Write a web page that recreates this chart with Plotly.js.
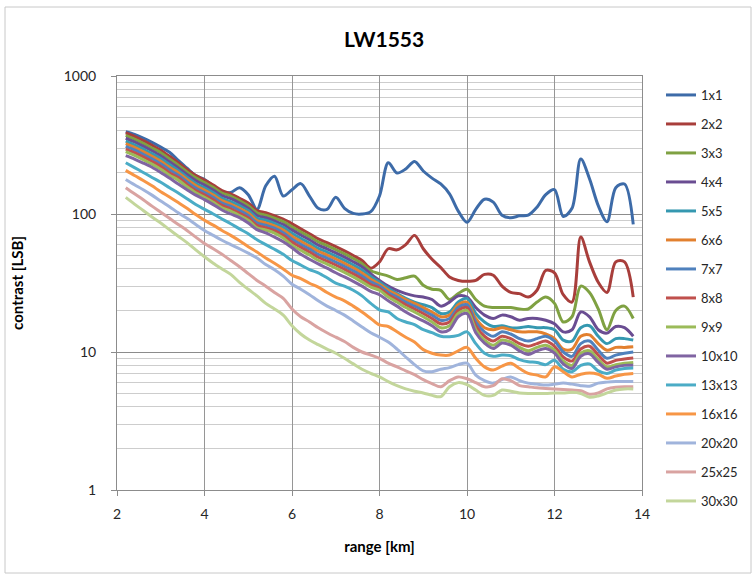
<!DOCTYPE html>
<html>
<head>
<meta charset="utf-8">
<script src="https://cdn.plot.ly/plotly-3.0.1.min.js"></script>
<style>html,body{margin:0;padding:0;background:#fff;}#chart{width:756px;height:576px;}</style>
</head>
<body>
<div id="chart"></div>
<script>
// ---- DATA ----
const rangeKm = [2.2,2.4,2.6,2.8,3.0,3.2,3.4,3.6,3.8,4.0,4.2,4.4,4.6,4.8,5.0,5.2,5.4,5.6,5.8,6.0,6.2,6.4,6.6,6.8,7.0,7.2,7.4,7.6,7.8,8.0,8.2,8.4,8.6,8.8,9.0,9.2,9.4,9.6,9.8,10.0,10.2,10.4,10.6,10.8,11.0,11.2,11.4,11.6,11.8,12.0,12.2,12.4,12.6,12.8,13.0,13.2,13.4,13.6,13.8];

const seriesNames = ['1x1','2x2','3x3','4x4','5x5','6x6','7x7','8x8','9x9','10x10','13x13','16x16','20x20','25x25','30x30'];

const c1x1 = [395,378,355,330,305,280,245,215,190,178, 160,145,143,155,138,108,160,188,135,150, 166,135,110,108,132,110,101,100,104,135, 235,198,212,240,205,182,165,140,105,87, 108,128,122,98,94,97,98,112,138,150, 96,110,250,180,115,88,155,165,84];
const c2x2 = [388,365,340,315,290,262,235,210,190,176, 162,148,140,130,120,106,102,97,92,85, 78,72,66,62,58,54,50,46,40.5,45, 56,55,60,70,56,47,41,35,33,32.5, 33,36.5,36,30,27,26.5,25,28,39,37.5, 26,23,68,45,32,27,45,45,25];
const c3x3 = [371,349,325,301,278,251, 226,202,183,169,156,142,135,125,115,102,98, 93.2,88,80.8,74.2,68.5,62.8,59,55.2,51.4,47.6,43.7,38.8, 37,35.5,33.5,34.5,35.5,30.5,28.5,28,24,26.5, 28.5,24,21.5,21,21,21,20.5,20.5,23,25, 22.5,16.5,18,30,27,20.5,14.5,20,21.5,17.5];
const c4x4 = [354,333,310,287,264,239, 216,193,175,162,149,136,129,120,110,97.5,94, 89.2,83.9,76.7,70.4,65,59.5,55.9,52.3,48.7,45.1,41.5,36.9, 33,30,28,26.5,25.5,25,24,21.5,23,25.5, 25,21,18.5,17.5,18.5,18,17,17.5,17.5,17, 16,14,14.5,19.5,18,14.5,13.7,15.3,15,13];
const c5x5 = [337,317,295,274,252,228, 207,185,167,155,143,130,123,115,106,93.4,90, 85.5,80,72.6,66.6,61.5,56.4,53,49.5,46.1,42.7,39.3,35.2, 32,29,26.5,24.5,23,22,21,19,19.5,23, 24.5,19,16.5,15.3,15.5,15,15,15.3,15,15, 14.5,12.2,12,15,15.5,13,11.5,12.5,12.5,12.2];
const c6x6 = [323,304,283,262,241,218, 199,178,161,149,137,125,118,110,101.5,89.7,86.3, 82,76.5,69.1,63.4,58.5,53.7,50.4,47.2,43.9,40.7,37.4,33.7, 31,28,26,24,22.5,21,19.5,18,18.5,22, 23,17.5,15,14.5,15,14.5,14,14,14,13.5, 12.5,10.5,10.5,13,13.3,11.5,10.3,10.8,10.8,10.9];
const c7x7 = [309,291,271,251,231,209, 191,171,154,143,132,120,114,106,97.6,86.2,82.9, 78.9,73.2,65.7,60.3,55.7,51,47.9,44.8,41.7,38.7,35.6,32.2, 30,27,25,23,21.5,20,18.5,17,17.5,21, 22,16.5,14,13,14,13.5,12.5,12,12.5,13, 12,10,9.3,11.5,12,10.3,9,9.5,9.8,10];
const c8x8 = [295,278,259,240,221,199, 184,164,148,137.5,126.5,115.6,109,101.5,93.7,82.8,79.7, 75.8,70,62.6,57.4,53,48.6,45.6,42.7,39.7,36.8,33.9,30.8, 29,26,24,22,20.5,19,17.5,16,16.5,20, 21,15.5,13,12,13,12.5,11.5,11,11.5,12, 11,9.2,8.6,10.5,11,9.5,8.3,8.7,8.9,9.05];
const c9x9 = [283,266,248,230,211,191, 176,157.5,142.5,132,121.5,111,105,97.5,90,79.5,76.5, 72.8,67,59.5,54.6,50.4,46.2,43.4,40.6,37.8,35,32.2,29.5, 28,25,23,21,19.5,18,16.5,15,15.5,19, 20,14.5,12.2,11.2,12.2,11.8,10.8,10.2,10.8,11.2, 10.3,8.6,8,9.8,10.2,8.8,7.8,8.1,8.3,8.4];
const c10x10 = [265,250,234,218,200,182, 165,150,137,127,117,107,100,94,86,77,73, 68,63,57,51,47,43.5,40.5,37.5,35,32.5,30,27.5, 26,23.5,21.5,19.5,18,16.8,15.5,14,14.5,18, 19,13.8,11.6,10.6,11.6,11.2,10.2,9.6,10.2,10.6, 9.8,8.2,7.6,9.3,9.7,8.4,7.5,7.8,8,8];
const c13x13 = [235,217,200,184,170,155,142,129,117,108, 100,92,85,78,72,65,60,55.5,51,46, 42.7,39.5,37.5,34.5,31.5,30,28,25.5,22.5, 20.2,19.5,17.5,16.5,15.8,14.5,13.8,13,12.9,13.2, 14,11.5,9.8,9.3,9.5,9.4,8.8,8.5,8.4,8.1, 8.7,7.5,7.2,8,8.2,7.3,7,7.4,7.6,7.65];
const c16x16 = [207,190,175,160,145,133,121,110,99,90, 83,76,70,64,58,53,48,44,40,36, 34,31.5,29.5,27,25,23.5,21.5,19.5,17.5, 15.7,15.3,14,12.8,11.8,10.4,9.8,9.5,9.5,10.2, 10.8,9,7.8,7.4,7.9,8.3,7.6,7,6.8,6.6, 7.8,7.2,6.6,6.9,7.05,6.9,6.45,6.7,6.9,7];
const c20x20 = [178,163,150,137,124,113,102,93,84,76, 70,64.5,60,56,52,48,43,39.5,35.5,31, 28.5,26,23.5,21.5,20,18.5,16.8,15.2,13.8, 12.8,11.8,10.5,9.2,8.1,7.3,7.2,7.5,7.7,8.1, 8.3,6.8,6.2,5.95,6.3,6.6,6.2,5.95,5.85,5.77, 5.85,5.95,5.85,5.7,5.65,5.95,6.05,6.1,6.1,6.1];
const c25x25 = [155,140,127,114,103,93,84,76,68,61, 56,51,46,41.5,37,33,30,27,24.5,20.5, 18,16.5,15,13.8,12.8,11.9,10.8,10,9.5, 9,8.3,7.8,7.3,6.85,6.3,5.9,5.6,6.2,6.6, 6.4,6,5.6,5.7,6.4,6.2,5.7,5.6,5.5,5.45, 5.4,5.35,5.3,5.25,4.95,5.05,5.4,5.55,5.6,5.6];
const c30x30 = [132,118,106,95,86,77,69,62,55,49, 44,40,36.5,32,28.5,25.5,22.5,20.5,18.5,15.5, 13.5,12.2,11.3,10.5,9.8,9,8.2,7.5,7, 6.6,6.1,5.7,5.4,5.2,5.05,4.85,4.75,5.6,6, 5.8,5.3,4.85,4.85,5.3,5.2,5.05,5,5,5, 5.05,5.05,5.1,5,4.7,4.8,5.05,5.3,5.4,5.4];

const seriesValues = [c1x1,c2x2,c3x3,c4x4,c5x5,c6x6,c7x7,c8x8,c9x9,c10x10,c13x13,c16x16,c20x20,c25x25,c30x30];

// ---- STYLE ----
const colors = ['#3D6BA8','#A83E3B','#7FA142','#6A4D92','#3598B0','#E2802F','#4F81BD','#C0504D','#9BBB59','#8064A2','#4BACC6','#F79646','#A0B4DC','#D9A3A1','#C3D69B'];

const traces = seriesNames.map((name, k) => ({
  type: 'scatter',
  mode: 'lines',
  name: name,
  x: rangeKm,
  y: seriesValues[k],
  legendgroup: 'g' + k,
  line: {color: colors[k], width: 3, shape: 'spline', smoothing: 0.9},
  hoverinfo: 'skip'
}));

const L = 117, R = 642, T = 76, B = 490;
const px2x = p => (p - L) / (R - L);
const px2y = p => (B - p) / (B - T);

const layout = {
  width: 756, height: 576,
  margin: {l: 117, r: 114, t: 76, b: 86, pad: 0},
  paper_bgcolor: '#ffffff',
  plot_bgcolor: '#ffffff',
  font: {family: 'Lato, "Open Sans", sans-serif', size: 14, color: '#262626'},
  title: {
    text: '<b>LW1553</b>',
    font: {size: 21, color: '#000000'},
    xref: 'container', yref: 'container',
    x: 0.508, y: 1 - 40 / 576,
    xanchor: 'center', yanchor: 'middle'
  },
  xaxis: {
    type: 'linear', range: [2, 14], tick0: 2, dtick: 2,
    showgrid: true, gridcolor: '#969696', gridwidth: 1,
    zeroline: false,
    showline: true, linecolor: '#8c8c8c', linewidth: 1, mirror: true,
    ticks: 'outside', ticklen: 5, tickcolor: '#8c8c8c',
    tickfont: {size: 14, color: '#262626'},
    ticklabelstandoff: 6,
    title: {text: '<b>range [km]</b>', font: {size: 15, color: '#000000'}, standoff: 20}
  },
  yaxis: {
    type: 'log', range: [0, 3], dtick: 1, exponentformat: 'none',
    showgrid: true, gridcolor: '#8c8c8c', gridwidth: 1,
    minor: {dtick: 'D1', showgrid: true, gridcolor: '#cdcdcd', gridwidth: 1, ticks: ''},
    zeroline: false,
    showline: true, linecolor: '#8c8c8c', linewidth: 1, mirror: true,
    ticks: 'outside', ticklen: 5, tickcolor: '#8c8c8c',
    tickfont: {size: 14, color: '#262626'},
    ticklabelstandoff: 12,
    title: {text: '<b>contrast [LSB]</b>', font: {size: 15, color: '#000000'}, standoff: 36}
  },
  showlegend: true,
  legend: {
    x: px2x(661), xanchor: 'left',
    y: px2y(80), yanchor: 'top',
    bgcolor: 'rgba(0,0,0,0)', borderwidth: 0,
    font: {size: 13, color: '#262626'},
    tracegroupgap: 9.1,
    itemwidth: 30,
    maxheight: 520,
    traceorder: 'grouped'
  },
  shapes: [{
    type: 'rect', xref: 'paper', yref: 'paper',
    x0: px2x(5), x1: px2x(751), y0: px2y(573), y1: px2y(7),
    line: {color: '#c8c8c8', width: 1}, fillcolor: 'rgba(0,0,0,0)', layer: 'below'
  }]
};

Plotly.newPlot('chart', traces, layout, {displayModeBar: false, staticPlot: true});
</script>
</body>
</html>
